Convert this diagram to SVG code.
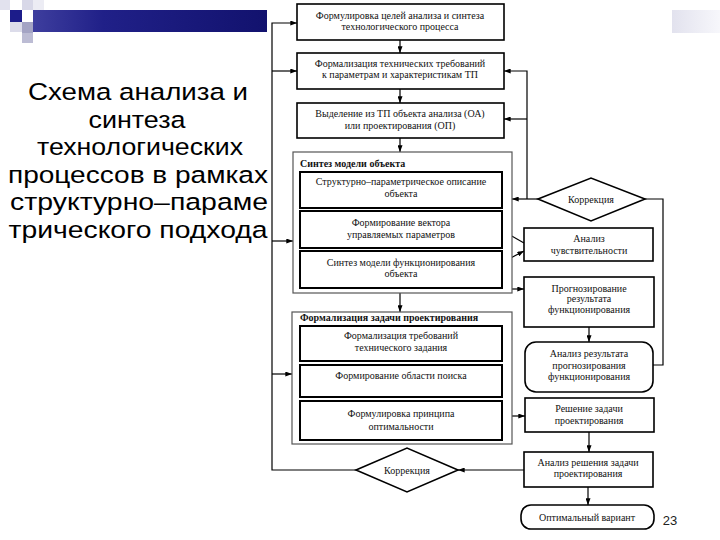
<svg xmlns="http://www.w3.org/2000/svg" width="720" height="540" viewBox="0 0 720 540">
<defs>
<linearGradient id="bar" x1="0" y1="0" x2="1" y2="0"><stop offset="0" stop-color="#3e3e9e"/><stop offset="0.3" stop-color="#202088"/><stop offset="1" stop-color="#12126e"/></linearGradient>
<linearGradient id="tr" x1="0" y1="0" x2="1" y2="0"><stop offset="0" stop-color="#e2e2ee"/><stop offset="1" stop-color="#f7f7fb"/></linearGradient>
<marker id="ah" viewBox="0 0 8 6" refX="8" refY="3" markerWidth="7" markerHeight="5" markerUnits="userSpaceOnUse" orient="auto"><path d="M0,0 L8,3 L0,6 Z" fill="#000"/></marker>
<style>
.t{font-family:"Liberation Serif","Times New Roman",serif;font-size:10px;fill:#111;text-anchor:middle}
.g{font-family:"Liberation Serif","Times New Roman",serif;font-size:10px;font-weight:bold;fill:#111}
.title{font-family:"Liberation Sans",Arial,sans-serif;font-size:24.5px;fill:#000;text-anchor:middle}
.b{fill:#fff;stroke:#000;stroke-width:1.6}
.ib{fill:#fff;stroke:#000;stroke-width:2}
.grp{fill:#fff;stroke:#555;stroke-width:1.2}
.c{fill:none;stroke:#000;stroke-width:1.2}
.a{marker-end:url(#ah)}
</style>
</defs>
<rect width="720" height="540" fill="#fff"/>
<g id="template">
<rect x="0" y="0" width="10" height="10" fill="#e2e2ee"/>
<rect x="10" y="10" width="12" height="12" fill="#1c1c8a"/>
<rect x="22" y="0" width="11" height="10" fill="#d8d8e8"/>
<rect x="33" y="0" width="11" height="10" fill="#ececf4"/>
<rect x="10" y="22" width="12" height="10" fill="#dcdcea"/>
<rect x="22" y="22" width="11" height="11" fill="#a4a4c4"/>
<rect x="22" y="33" width="11" height="10" fill="#bcbcd4"/>
<rect x="33" y="10" width="234" height="22" fill="url(#bar)"/>
<rect x="672" y="10" width="48" height="23" fill="url(#tr)"/>
</g>
<g id="title">
<text class="title" x="138" y="100" textLength="220" lengthAdjust="spacingAndGlyphs">Схема анализа и</text>
<text class="title" x="137" y="127.5" textLength="97" lengthAdjust="spacingAndGlyphs">синтеза</text>
<text class="title" x="140" y="155" textLength="206" lengthAdjust="spacingAndGlyphs">технологических</text>
<text class="title" x="138" y="182.5" textLength="260" lengthAdjust="spacingAndGlyphs">процессов в рамках</text>
<text class="title" x="139" y="210" textLength="258" lengthAdjust="spacingAndGlyphs">структурно–параме</text>
<text class="title" x="138" y="237.5" textLength="259" lengthAdjust="spacingAndGlyphs">трического подхода</text>
</g>
<g id="connectors">
<path class="c a" d="M400,40 V53"/>
<path class="c a" d="M400,89 V103"/>
<path class="c a" d="M400,138 V152"/>
<path class="c a" d="M400,293 V312"/>
<path class="c a" d="M356,470 H272 V23 H297"/>
<path class="c a" d="M272,71 H297"/>
<path class="c a" d="M272,241 H293"/>
<path class="c a" d="M272,374 H292"/>
<path class="c a" d="M538,199 H512"/>
<path class="c a" d="M527,199 V71 H504"/>
<path class="c a" d="M527,119 H504"/>
<path class="c" d="M653,365 H663 V199 H645"/>
<path class="c a" d="M524,243 L503,231"/>
<path class="c a" d="M503,262 L524,251"/>
<path class="c a" d="M512,289 H524"/>
<path class="c a" d="M589,327 V342"/>
<path class="c a" d="M512,416 H525"/>
<path class="c a" d="M589,432 V452"/>
<path class="c a" d="M524,470 H458"/>
<path class="c a" d="M588,487 V505"/>
</g>
<g id="n1"><rect class="b" x="297" y="4" width="207" height="36"/>
<text class="t" x="400" y="18.5">Формулировка целей анализа и синтеза</text>
<text class="t" x="400" y="29.5">технологического процесса</text></g>
<g id="n2"><rect class="b" x="297" y="53" width="207" height="36"/>
<text class="t" x="400" y="67">Формализация технических требований</text>
<text class="t" x="400" y="78">к параметрам и характеристикам ТП</text></g>
<g id="n3"><rect class="b" x="297" y="103" width="207" height="35"/>
<text class="t" x="400" y="116.5">Выделение из ТП объекта анализа (ОА)</text>
<text class="t" x="400" y="128.5">или проектирования (ОП)</text></g>
<g id="synth">
<rect class="grp" x="293" y="152" width="219" height="141"/>
<text class="g" x="300" y="166.5">Синтез модели объекта</text>
<g id="s1"><rect class="ib" x="300" y="172" width="202" height="36"/>
<text class="t" x="401" y="185">Структурно–параметрическое описание</text>
<text class="t" x="401" y="197">объекта</text></g>
<g id="s2"><rect class="ib" x="300" y="211" width="202" height="37"/>
<text class="t" x="401" y="226">Формирование вектора</text>
<text class="t" x="401" y="238">управляемых параметров</text></g>
<g id="s3"><rect class="ib" x="300" y="251" width="202" height="37"/>
<text class="t" x="401" y="265.5">Синтез модели функционирования</text>
<text class="t" x="401" y="277">объекта</text></g>
</g>
<g id="form">
<rect class="grp" x="292" y="312" width="220" height="132"/>
<text class="g" x="300" y="321">Формализация задачи проектирования</text>
<g id="f1"><rect class="ib" x="300" y="326" width="202" height="35"/>
<text class="t" x="401" y="339">Формализация требований</text>
<text class="t" x="401" y="351">технического задания</text></g>
<g id="f2"><rect class="ib" x="300" y="365" width="202" height="32"/>
<text class="t" x="401" y="379">Формирование области поиска</text></g>
<g id="f3"><rect class="ib" x="300" y="401" width="202" height="39"/>
<text class="t" x="401" y="417">Формулировка принципа</text>
<text class="t" x="401" y="430">оптимальности</text></g>
</g>
<g id="corr1"><polygon class="b" points="538,199 591,178 645,199 591,221"/>
<text class="t" x="591" y="202.5">Коррекция</text></g>
<g id="sens"><rect class="b" x="524" y="228" width="129" height="33"/>
<text class="t" x="589" y="241.5">Анализ</text>
<text class="t" x="589" y="253.5">чувствительности</text></g>
<g id="prog"><rect class="b" x="524" y="277" width="130" height="50"/>
<text class="t" x="589" y="291.5">Прогнозирование</text>
<text class="t" x="589" y="302">результата</text>
<text class="t" x="589" y="313">функционирования</text></g>
<g id="res"><rect class="b" x="525" y="342" width="128" height="50" rx="11"/>
<text class="t" x="589" y="357">Анализ результата</text>
<text class="t" x="589" y="368.5">прогнозирования</text>
<text class="t" x="589" y="380">функционирования</text></g>
<g id="sol"><rect class="b" x="525" y="398" width="129" height="34"/>
<text class="t" x="589" y="411.5">Решение задачи</text>
<text class="t" x="589" y="423.5">проектирования</text></g>
<g id="solan"><rect class="b" x="524" y="452" width="129" height="35"/>
<text class="t" x="588" y="466">Анализ решения задачи</text>
<text class="t" x="588" y="477">проектирования</text></g>
<g id="corr2"><polygon class="b" points="356,470 407,448 458,470 407,492"/>
<text class="t" x="407" y="473.5">Коррекция</text></g>
<g id="opt"><rect class="b" x="521" y="505" width="133" height="24" rx="10"/>
<text class="t" x="587" y="520.5">Оптимальный вариант</text></g>
<text x="670" y="525" font-family="'Liberation Sans',Arial,sans-serif" font-size="13" fill="#222" text-anchor="middle">23</text>
</svg>
